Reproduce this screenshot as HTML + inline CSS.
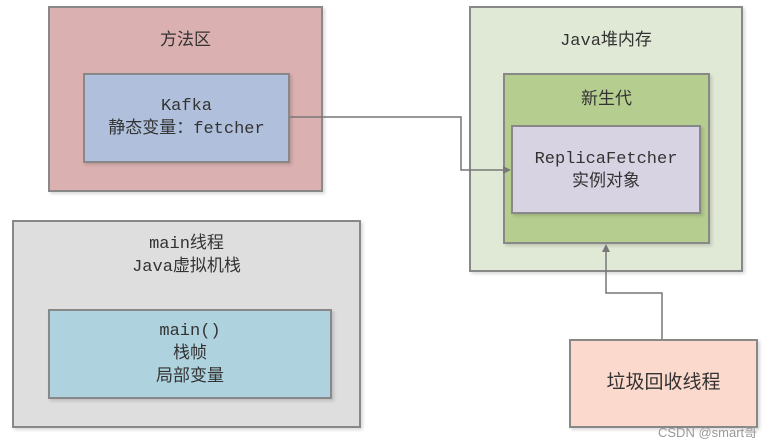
<!DOCTYPE html>
<html><head><meta charset="utf-8"><style>
body{margin:0;width:773px;height:445px;background:#fff;position:relative;overflow:hidden;font-family:"Liberation Mono","Noto Sans CJK SC",monospace;color:#333}
.b{position:absolute;box-sizing:border-box;border:2px solid #888;box-shadow:2px 2px 3px rgba(0,0,0,.15)}
.t{position:absolute;left:0;right:0;text-align:center;font-size:17px;line-height:23px}
</style></head><body>
<div class="b" style="left:48px;top:6px;width:275px;height:186px;background:#dbb0b0"><div class="t" style="top:22px">方法区</div></div>
<div class="b" style="left:83px;top:73px;width:207px;height:90px;background:#b0c0dc"><div class="t" style="top:20px">Kafka<br>静态变量：fetcher</div></div>
<div class="b" style="left:12px;top:220px;width:349px;height:208px;background:#dedede"><div class="t" style="top:11px">main线程<br>Java虚拟机栈</div></div>
<div class="b" style="left:48px;top:309px;width:284px;height:90px;background:#aed2de"><div class="t" style="top:9px">main()<br>栈帧<br>局部变量</div></div>
<div class="b" style="left:469px;top:6px;width:274px;height:266px;background:#e0e9d5"><div class="t" style="top:22px">Java堆内存</div></div>
<div class="b" style="left:503px;top:73px;width:207px;height:171px;background:#b6cd90"><div class="t" style="top:14px">新生代</div></div>
<div class="b" style="left:511px;top:125px;width:190px;height:89px;background:#d8d3e3"><div class="t" style="top:21px">ReplicaFetcher<br>实例对象</div></div>
<div class="b" style="left:569px;top:339px;width:189px;height:89px;background:#fbd9cc"><div class="t" style="top:31px;font-size:19px">垃圾回收线程</div></div>
<svg style="position:absolute;left:0;top:0" width="773" height="445">
<polyline points="290,117 461,117 461,170 505,170" fill="none" stroke="#777" stroke-width="1.5"/>
<polygon points="511,170 503,166 503,174" fill="#777"/>
<polyline points="662,339 662,293 606,293 606,250" fill="none" stroke="#777" stroke-width="1.5"/>
<polygon points="606,244 602,252 610,252" fill="#777"/>
</svg>
<div style="position:absolute;left:658px;top:422px;font:13px 'Liberation Sans','Noto Sans CJK SC',sans-serif;color:#999">CSDN @smart哥</div>
</body></html>
